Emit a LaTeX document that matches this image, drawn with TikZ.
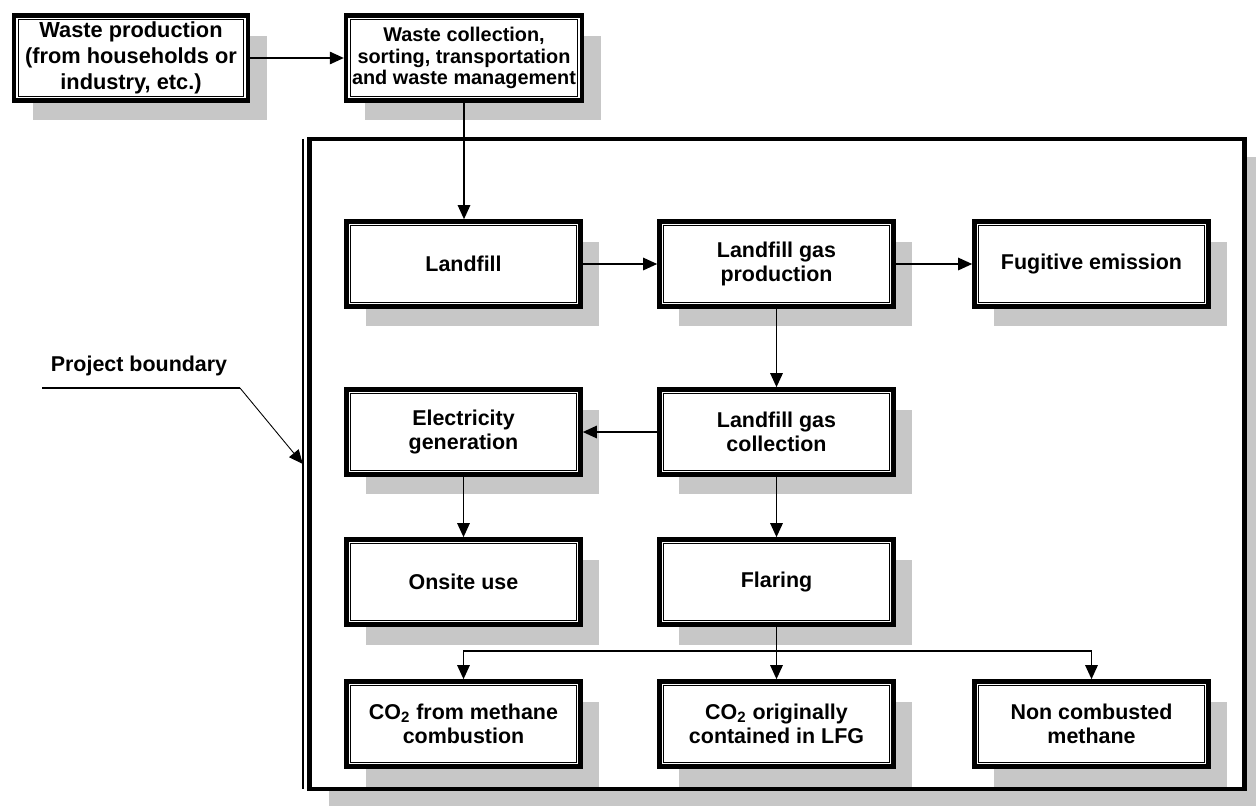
\documentclass[tikz,border=0pt]{standalone}
\usepackage{fontspec}
\setmainfont{Liberation Sans}
\usetikzlibrary{arrows.meta, shadows}
\tikzset{
    flowbox/.style={rectangle, draw, line width=2.6pt, fill=white, minimum width=4.68cm, minimum height=1.7cm, text centered, align=center, font=\fontsize{12.2}{13.8}\selectfont\bfseries, drop shadow={shadow xshift=0.38cm, shadow yshift=-0.4cm, fill=black!22, opacity=1}, path picture={\draw[line width=0.6pt] ([shift={(2.5pt,2.5pt)}]path picture bounding box.south west) rectangle ([shift={(-2.5pt,-2.5pt)}]path picture bounding box.north east);}},
    frame/.style={rectangle, draw, line width=2.6pt, fill=white, drop shadow={shadow xshift=0.38cm, shadow yshift=-0.35cm, fill=black!22, opacity=1}},
    flow/.style={-{Triangle[length=8pt,width=7pt]}, line width=1.1pt},
    link/.style={line width=1.1pt}
}

\begin{document}
\begin{tikzpicture}[x=0.02cm, y=-0.02cm]
    \useasboundingbox (0,0) rectangle (1256,805);
    % Project boundary frame
    \node[frame, minimum width=18.7cm, minimum height=13cm] (boundary) at (777,464) {};
    \draw[line width=0.8pt] ([yshift=-1.2pt]boundary.north west) ++(-4.5,0) coordinate (bnw) -- ([yshift=1.2pt]bnw |- boundary.south);
    % Boxes
    \node[flowbox, font=\fontsize{12.4}{15}\selectfont\bfseries] (waste) at (131,58) {Waste production\\(from households or\\industry, etc.)};
    \node[flowbox, font=\fontsize{11.3}{12.3}\selectfont\bfseries] (collect) at (464,58) {Waste collection,\\sorting, transportation\\and waste management};
    \node[flowbox] (landfill) at (463.5,264) {Landfill};
    \node[flowbox] (lfgprod) at (776.5,264) {Landfill gas\\production};
    \node[flowbox] (fugitive) at (1091.5,264) {Fugitive emission};
    \node[flowbox] (elec) at (463.5,432) {Electricity\\generation};
    \node[flowbox] (lfgcoll) at (776.5,432) {Landfill gas\\collection};
    \node[flowbox] (onsite) at (463.5,582) {Onsite use};
    \node[flowbox] (flaring) at (776.5,582) {Flaring};
    \node[flowbox] (co2comb) at (463.5,724) {CO\textsubscript{2} from methane\\combustion};
    \node[flowbox] (co2orig) at (776.5,724) {CO\textsubscript{2} originally\\contained in LFG};
    \node[flowbox] (noncomb) at (1091.5,724) {Non combusted\\methane};
    % Label
    \node[font=\fontsize{12.2}{13.8}\selectfont\bfseries] (pblabel) at (139,366) {Project boundary};
    \coordinate (pbleft) at (42,388);
    \coordinate (pbright) at (240,388);
    \coordinate (split) at (776.5,651);

    % Connections
    \draw[flow] (waste) -- (collect);
    \draw[flow] (collect.south) -- (landfill.north -| collect.south);
    \draw[flow] (landfill) -- (lfgprod);
    \draw[flow] (lfgprod) -- (fugitive);
    \draw[flow] (lfgprod) -- (lfgcoll);
    \draw[flow] (lfgcoll) -- (elec);
    \draw[flow] (elec) -- (onsite);
    \draw[flow] (lfgcoll) -- (flaring);
    \draw[link] (flaring) -- (split);
    \draw[flow] (split) -| (co2comb.north);
    \draw[flow] (split) -- (co2orig);
    \draw[flow] (split) -| (noncomb.north);
    \draw[link] (pbleft) -- (pbright);
    \draw[flow, line width=0.5pt] (pbright) -- (bnw |- boundary.west);
\end{tikzpicture}
\end{document}
